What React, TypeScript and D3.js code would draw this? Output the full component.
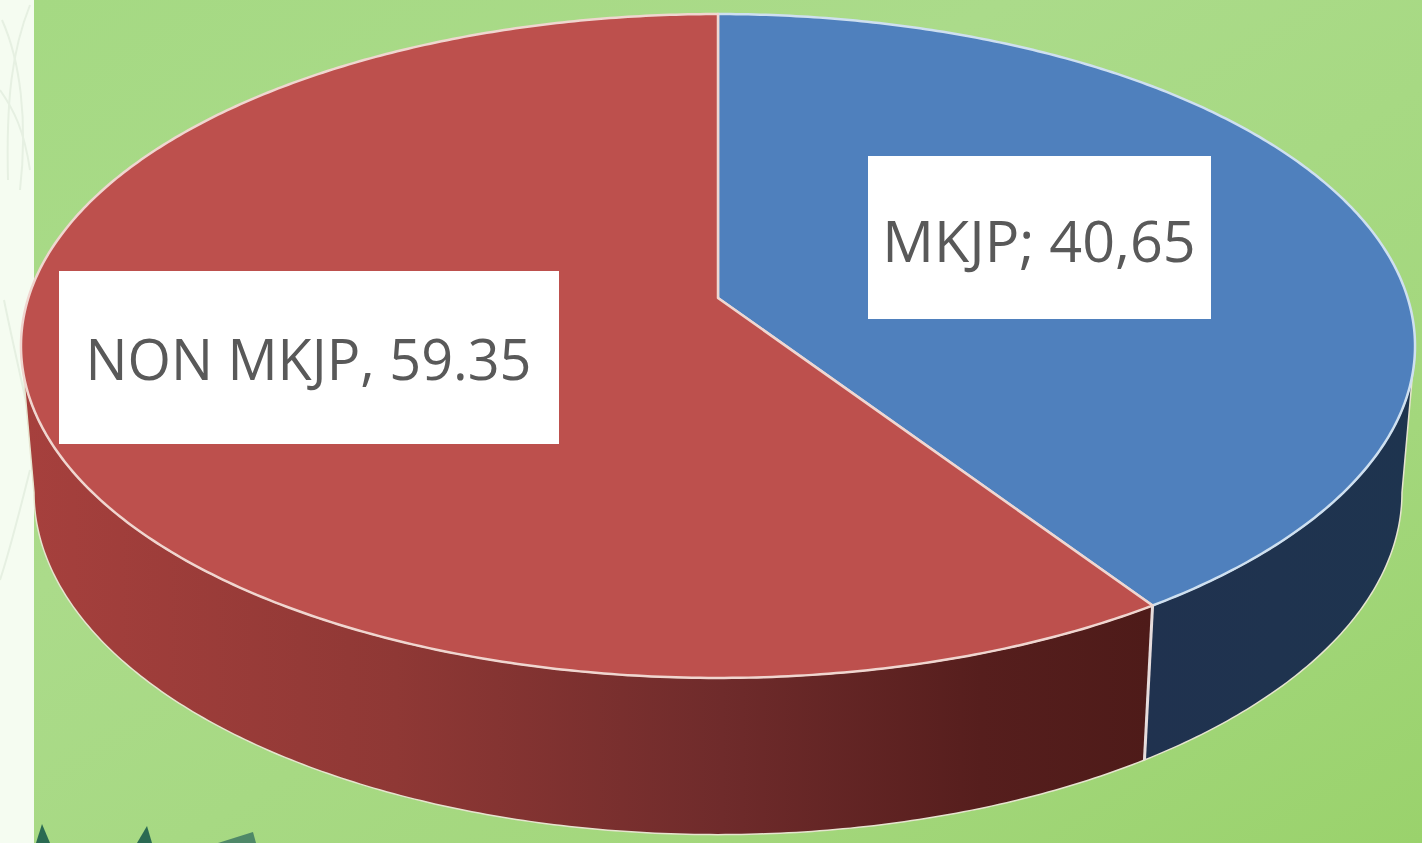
import React from "react";
import * as d3 from "d3";

const categories = ["MKJP", "NON MKJP"];
const values = [40.65, 59.35];
const labelTexts = ["MKJP; 40,65", "NON MKJP, 59.35"];
const topColors = ["#4f80bd", "#bd504d"];
const rimColors = ["#cfe0f0", "#f0d6d0"];
const sideColors = ["url(#blueSide)", "url(#redSide)"];

const W = 1422;
const H = 843;
const TAU = Math.PI * 2;

// projective view of a tilted disc: nearer edge is drawn larger
const tilt = -0.1446;
const topDisc = { cx: 718, cy: 298, h: 689.7, k: 325 };
const baseDisc = { cx: 718, cy: 443, h: 676.8, k: 335 };
const silhouette = Math.acos(-0.145);

type Disc = typeof topDisc;
const project = (d: Disc, a: number): [number, number] => {
  const u = Math.sin(a);
  const v = -Math.cos(a);
  const w = 1 + tilt * v;
  return [d.cx + (d.h * u) / w, d.cy + (d.k * v) / w];
};
const samples = (a0: number, a1: number) => {
  const n = Math.max(2, Math.ceil(Math.abs(a1 - a0) / 0.01));
  return d3.range(n + 1).map((i) => a0 + ((a1 - a0) * i) / n);
};
const line = d3.line<[number, number]>();

const slices = d3
  .pie<number>()
  .sort(null)
  .value((d) => d)
  .startAngle(0)
  .endAngle(TAU)(values);

const wallPath = (a0: number, a1: number) => {
  const from = Math.max(a0, silhouette);
  const to = Math.min(a1, TAU - silhouette);
  return (
    line([
      ...samples(from, to).map((a) => project(topDisc, a)),
      ...samples(to, from).map((a) => project(baseDisc, a)),
    ]) + "Z"
  );
};
const slicePath = (a0: number, a1: number) =>
  line([[topDisc.cx, topDisc.cy], ...samples(a0, a1).map((a) => project(topDisc, a))]) + "Z";

const labelBoxes = [
  { x: 868, y: 156, w: 343, h: 163, tx: 1039, ty: 262, size: 57.5 },
  { x: 59, y: 271, w: 500, h: 173, tx: 308.5, ty: 380, size: 55.8 },
];

const leafTips = [
  "M36 843 L42 824 L50 843Z",
  "M137 843 L147 826 L152 843Z",
  "M218 843 L253 832 L256 843Z",
];
const fernStrokes = [
  "M2 20 C20 60 28 120 20 190",
  "M30 5 C12 50 6 100 8 180",
  "M0 90 C14 110 24 130 30 170",
  "M4 300 C12 340 24 390 34 440",
  "M30 470 C20 510 10 550 0 580",
];

export default function App() {
  const junction = slices[0].endAngle;
  return (
    <svg
      width={W}
      height={H}
      viewBox={`0 0 ${W} ${H}`}
      style={{ position: "absolute", left: 0, top: 0, display: "block" }}
    >
      <defs>
        <linearGradient id="bg" x1="0" y1="0" x2="1" y2="1">
          <stop offset="0" stopColor="#a5d983" />
          <stop offset="0.35" stopColor="#abdb8a" />
          <stop offset="0.75" stopColor="#a3d77c" />
          <stop offset="1" stopColor="#9ad26c" />
        </linearGradient>
        <linearGradient id="redSide" gradientUnits="userSpaceOnUse" x1="25" y1="0" x2="1150" y2="0">
          <stop offset="0" stopColor="#a6403d" />
          <stop offset="0.33" stopColor="#8f3835" />
          <stop offset="0.62" stopColor="#6f2b2b" />
          <stop offset="0.85" stopColor="#561e1d" />
          <stop offset="1" stopColor="#4e1b19" />
        </linearGradient>
        <linearGradient id="blueSide" gradientUnits="userSpaceOnUse" x1="1145" y1="0" x2="1410" y2="0">
          <stop offset="0" stopColor="#20324f" />
          <stop offset="1" stopColor="#1e344f" />
        </linearGradient>
      </defs>

      <rect x={0} y={0} width={W} height={H} fill="#f5fcf1" />
      {fernStrokes.map((d, i) => (
        <path key={i} d={d} fill="none" stroke="#e6f0e2" strokeWidth={2} />
      ))}
      <rect x={34} y={0} width={W - 34} height={H} fill="url(#bg)" />
      {leafTips.map((d, i) => (
        <path key={i} d={d} fill={i === 2 ? "#4f8868" : "#2a6a52"} />
      ))}

      {slices.map((s, i) => (
        <path
          key={`wall-${categories[i]}`}
          d={wallPath(s.startAngle, s.endAngle)}
          fill={sideColors[i]}
          stroke="#e6e4cf"
          strokeWidth={1.5}
          strokeLinejoin="round"
        />
      ))}
      <path
        d={line([project(topDisc, junction), project(baseDisc, junction)]) ?? ""}
        stroke="#e6dcdc"
        strokeWidth={3}
        fill="none"
      />
      {slices.map((s, i) => (
        <path
          key={`top-${categories[i]}`}
          d={slicePath(s.startAngle, s.endAngle)}
          fill={topColors[i]}
          stroke={rimColors[i]}
          strokeWidth={2.5}
          strokeLinejoin="round"
        />
      ))}

      {labelTexts.map((t, i) => {
        const b = labelBoxes[i];
        return (
          <g key={t}>
            <rect x={b.x} y={b.y} width={b.w} height={b.h} fill="#ffffff" />
            <text
              x={b.tx}
              y={b.ty}
              textAnchor="middle"
              fontFamily="'Open Sans', sans-serif"
              fontSize={b.size}
              fill="#595959"
            >
              {t}
            </text>
          </g>
        );
      })}
    </svg>
  );
}
